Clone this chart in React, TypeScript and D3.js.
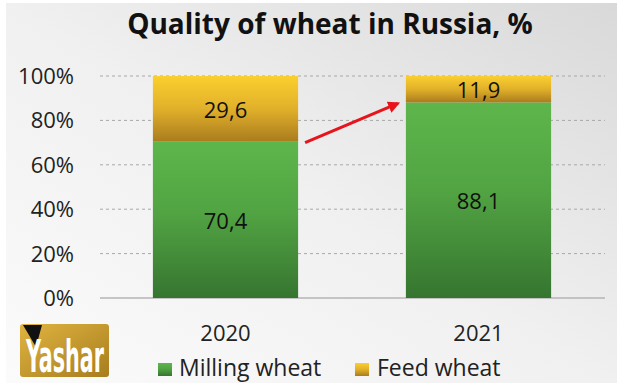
import React from "react";
import * as d3 from "d3";

const years = ["2020", "2021"];
const milling = [70.4, 88.1];
const feed = [29.6, 11.9];
const yTicks = [0, 20, 40, 60, 80, 100];
const labels = { milling: ["70,4", "88,1"], feed: ["29,6", "11,9"] };
const seriesNames = ["Milling wheat", "Feed wheat"];

const W = 625, H = 385;
const font = "'Open Sans', 'Noto Sans', sans-serif";

export default function App() {
  const x = d3.scaleBand<string>().domain(years).range([99, 605]).paddingInner(0.426).paddingOuter(0.213);
  const y = d3.scaleLinear().domain([0, 100]).range([298, 76]);
  const bw = x.bandwidth();

  const a0x = (x(years[0])! + bw) + 7;
  const a0y = y(milling[0]) + 1;
  const a1x = x(years[1])! - 8;
  const a1y = y(milling[1]) + 1;

  return (
    <svg width={W} height={H} style={{ position: "absolute", left: 0, top: 0 }} fontFamily={font}>
      <defs>
        <linearGradient id="bg" x1="0" y1="1" x2="1" y2="0">
          <stop offset="0" stopColor="#fbfbfb" />
          <stop offset="0.5" stopColor="#f0f0f0" />
          <stop offset="1" stopColor="#d9d9d9" />
        </linearGradient>
        <linearGradient id="gGreen" x1="0" y1="0" x2="0" y2="1">
          <stop offset="0" stopColor="#5db64b" />
          <stop offset="0.45" stopColor="#52a443" />
          <stop offset="1" stopColor="#367530" />
        </linearGradient>
        <linearGradient id="gYellow" x1="0" y1="0" x2="0" y2="1">
          <stop offset="0" stopColor="#fbcf2f" />
          <stop offset="0.5" stopColor="#e1b02a" />
          <stop offset="1" stopColor="#a97c1e" />
        </linearGradient>
        <linearGradient id="gLogo" x1="0" y1="0" x2="1" y2="1">
          <stop offset="0" stopColor="#e0b440" />
          <stop offset="1" stopColor="#a77d1f" />
        </linearGradient>
        <marker id="ah" viewBox="0 0 10 10" refX="8" refY="5" markerWidth="4" markerHeight="4" orient="auto">
          <path d="M0,0 L10,5 L0,10 z" fill="#e8141c" />
        </marker>
      </defs>
      <rect x={0} y={0} width={W} height={H} fill="#ffffff" />
      <rect x={6} y={3} width={611} height={380} fill="url(#bg)" />

      <text x={330} y={34} textAnchor="middle" fontSize={28} fontWeight={700} fill="#111">
        Quality of wheat in Russia, %
      </text>

      {yTicks.filter(t => t > 0).map(t => (
        <line key={t} x1={100} x2={605} y1={y(t)} y2={y(t)} stroke="#a8a8a8" strokeWidth={1} strokeDasharray="3,3" />
      ))}
      <line x1={100} x2={605} y1={y(0)} y2={y(0)} stroke="#b5b5b5" strokeWidth={1.5} />
      {yTicks.map(t => (
        <text key={t} x={74} y={y(t) + 8} textAnchor="end" fontSize={22} fill="#222">{t}%</text>
      ))}

      {years.map((yr, i) => (
        <g key={yr}>
          <rect x={x(yr)} y={y(milling[i])} width={bw} height={y(0) - y(milling[i])} fill="url(#gGreen)" />
          <rect x={x(yr)} y={y(100)} width={bw} height={y(milling[i]) - y(100)} fill="url(#gYellow)" />
          <text x={x(yr)! + bw / 2} y={(y(milling[i]) + y(0)) / 2 + 9} textAnchor="middle" fontSize={22} fill="#111">{labels.milling[i]}</text>
          <text x={x(yr)! + bw / 2} y={(y(milling[i]) + y(100)) / 2 + 9} textAnchor="middle" fontSize={22} fill="#111">{labels.feed[i]}</text>
          <text x={x(yr)! + bw / 2} y={341} textAnchor="middle" fontSize={22} fill="#222">{yr}</text>
        </g>
      ))}

      <line x1={a0x} y1={a0y} x2={a1x} y2={a1y} stroke="#e8141c" strokeWidth={3} markerEnd="url(#ah)" />

      <rect x={158} y={363} width={14} height={13} fill="url(#gGreen)" />
      <text x={179} y={376} fontSize={23} fill="#222">{seriesNames[0]}</text>
      <rect x={355} y={363} width={14} height={13} fill="url(#gYellow)" />
      <text x={377} y={376} fontSize={23} fill="#222">{seriesNames[1]}</text>

      <g>
        <rect x={20} y={324} width={89} height={53} rx={3} fill="url(#gLogo)" />
        <path d="M23,325 L42,325 L36,347 Z" fill="#111" />
        <text x={26} y={372} fontSize={44} fontWeight={700} fill="#fff"
          textLength={78} lengthAdjust="spacingAndGlyphs"
          fontFamily="'Liberation Sans Narrow', 'DejaVu Sans Condensed', sans-serif">Yashar</text>
      </g>
    </svg>
  );
}
